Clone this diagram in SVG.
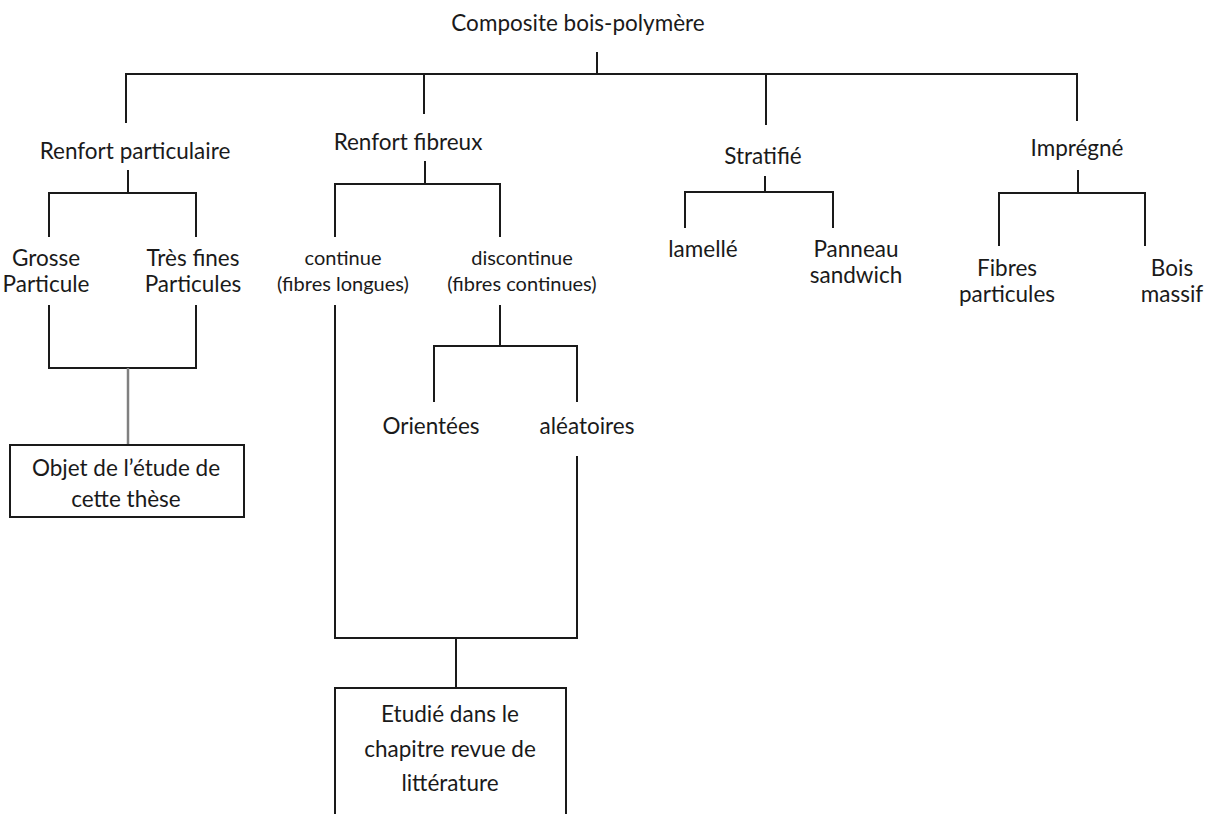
<svg xmlns="http://www.w3.org/2000/svg" width="1209" height="814" viewBox="0 0 1209 814">
<style>
.t{font-family:Lato,"Open Sans",sans-serif;font-size:22.5px;fill:#1a1a1a;text-anchor:middle}
.s{font-size:20px}
.c{fill:none;stroke:#1a1a1a;stroke-width:2}
.g{fill:none;stroke:#808080;stroke-width:2.5}
.b{fill:#fff;stroke:#1a1a1a;stroke-width:2}
</style>
<rect width="1209" height="814" fill="#fff"/>
<g id="connectors">
<path class="c" d="M597 52V74M126 123V74H1077V121M424 74V114M766 74V125"/>
<path class="c" d="M128 170V193M49 237V193H196V237"/>
<path class="c" d="M49 305V368H196V305"/>
<path class="g" d="M128 368V445"/>
<path class="c" d="M425 161V184M335 237V184H500V237"/>
<path class="c" d="M500 305V346M434 402V346H577V402"/>
<path class="c" d="M335 305V638H577V456M456 638V688"/>
<path class="c" d="M765 176V192M685 228V192H833V228"/>
<path class="c" d="M1078 170V193M999 246V193H1145V246"/>
</g>
<g id="root"><text class="t" x="578" y="31">Composite bois-polymère</text></g>
<g id="renfort-particulaire"><text class="t" x="135" y="159">Renfort particulaire</text></g>
<g id="renfort-fibreux"><text class="t" x="408" y="150">Renfort fibreux</text></g>
<g id="stratifie"><text class="t" x="763" y="164">Stratifié</text></g>
<g id="impregne"><text class="t" x="1077" y="156">Imprégné</text></g>
<g id="grosse"><text class="t" x="46" y="266">Grosse</text><text class="t" x="46" y="292">Particule</text></g>
<g id="tres-fines"><text class="t" x="193" y="266">Très fines</text><text class="t" x="193" y="292">Particules</text></g>
<g id="continue"><text class="t s" x="343" y="265">continue</text><text class="t s" x="343" y="291">(fibres longues)</text></g>
<g id="discontinue"><text class="t s" x="522" y="265">discontinue</text><text class="t s" x="522" y="291">(fibres continues)</text></g>
<g id="lamelle"><text class="t" x="703" y="257">lamellé</text></g>
<g id="panneau"><text class="t" x="856" y="257">Panneau</text><text class="t" x="856" y="283">sandwich</text></g>
<g id="fibres"><text class="t" x="1007" y="276">Fibres</text><text class="t" x="1007" y="302">particules</text></g>
<g id="bois"><text class="t" x="1172" y="276">Bois</text><text class="t" x="1172" y="302">massif</text></g>
<g id="orientees"><text class="t" x="431" y="434">Orientées</text></g>
<g id="aleatoires"><text class="t" x="587" y="434">aléatoires</text></g>
<g id="objet"><rect class="b" x="10" y="445" width="234" height="72"/><text class="t" x="126" y="476">Objet de l’étude de</text><text class="t" x="126" y="507">cette thèse</text></g>
<g id="etudie"><rect class="b" x="335" y="688" width="231" height="140"/><text class="t" x="450" y="722">Etudié dans le</text><text class="t" x="450" y="757">chapitre revue de</text><text class="t" x="450" y="791">littérature</text></g>
</svg>
